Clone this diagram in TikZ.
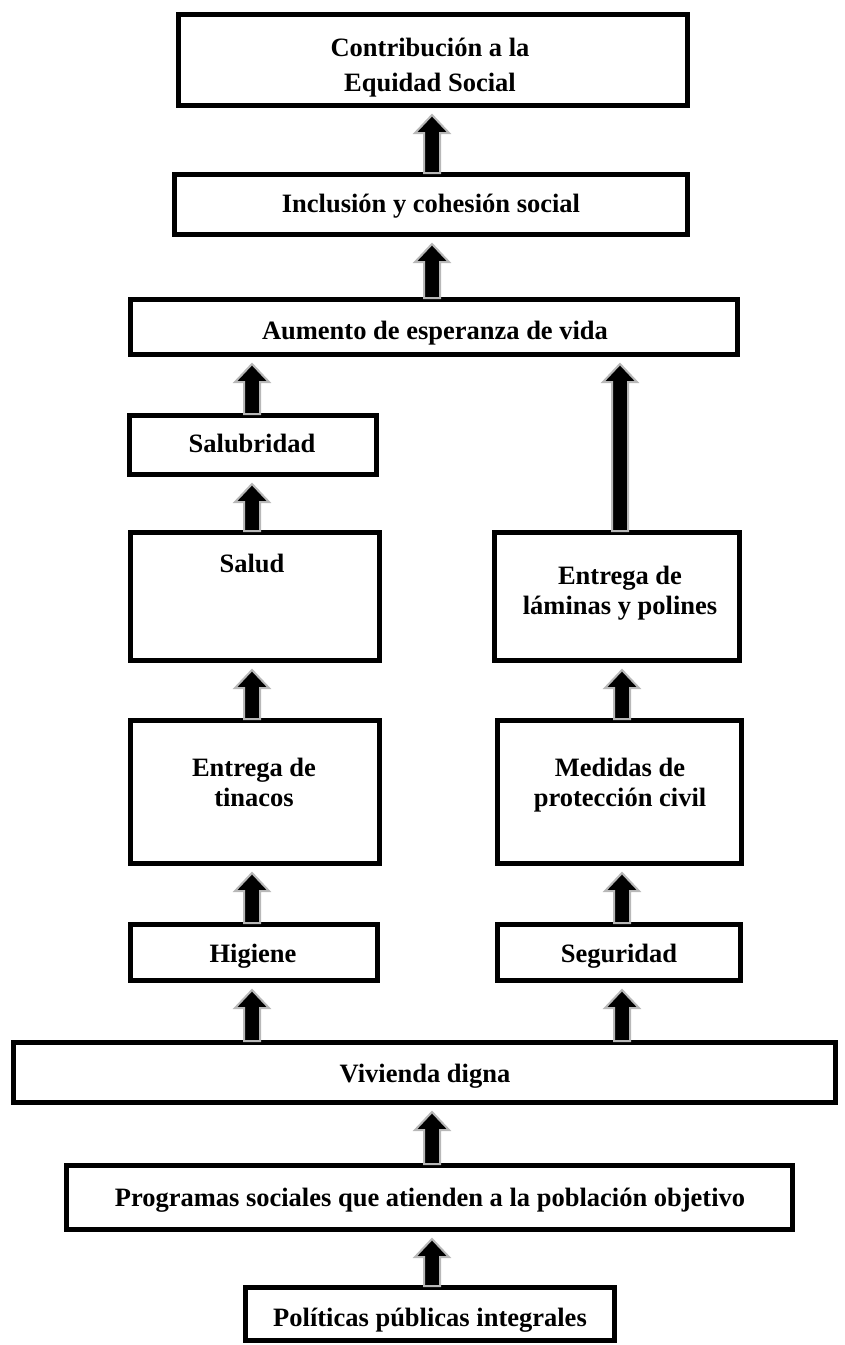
\documentclass[tikz,border=0pt]{standalone}
\usepackage{fontspec}
\setmainfont{Liberation Serif}
\usetikzlibrary{calc}
\tikzset{
  boxnode/.style={draw=black, line width=5pt, fill=white, rectangle, inner sep=0pt},
  lbl/.style={font=\fontsize{26.5}{33}\selectfont\bfseries, anchor=base, inner sep=0pt},
  blockarr/.style={fill=black, draw=black!28, line width=2pt, line join=miter}
}
\newcommand{\blockarrow}[3]{%
  \path[blockarr] let \p1=(#2.north), \p2=(#3.south) in
   ({#1pt-8pt},{\y1-1pt}) -- ({#1pt-8pt},{\y2-25pt}) -- ({#1pt-17pt},{\y2-25pt}) --
   ({#1pt},{\y2-7pt}) -- ({#1pt+17pt},{\y2-25pt}) -- ({#1pt+8pt},{\y2-25pt}) --
   ({#1pt+8pt},{\y1-1pt}) -- cycle;}
\begin{document}
\begin{tikzpicture}[x=1pt,y=-1pt]
\useasboundingbox (0,0) rectangle (845,1345);
% boxes
\node[boxnode, minimum width=509pt, minimum height=91pt] (contrib) at (433,60) {};
\node[boxnode, minimum width=513pt, minimum height=60pt] (inclus) at (431,204.5) {};
\node[boxnode, minimum width=607pt, minimum height=55pt] (aumento) at (434,327) {};
\node[boxnode, minimum width=247pt, minimum height=59pt] (salub) at (253,445) {};
\node[boxnode, minimum width=249pt, minimum height=128pt] (salud) at (255,596.5) {};
\node[boxnode, minimum width=245pt, minimum height=128pt] (lamin) at (617,596.5) {};
\node[boxnode, minimum width=249pt, minimum height=143pt] (tinac) at (255,792) {};
\node[boxnode, minimum width=244pt, minimum height=143pt] (medid) at (619.5,792) {};
\node[boxnode, minimum width=247pt, minimum height=56pt] (higie) at (254,952.5) {};
\node[boxnode, minimum width=243pt, minimum height=56pt] (segur) at (619,952.5) {};
\node[boxnode, minimum width=822pt, minimum height=60pt] (vivie) at (424.5,1072.5) {};
\node[boxnode, minimum width=726pt, minimum height=64pt] (progr) at (429.5,1197.5) {};
\node[boxnode, minimum width=369pt, minimum height=53pt] (polit) at (430,1314) {};
% labels
\node[lbl] (t1a) at (430,56) {Contribución a la};
\node[lbl] (t1b) at (430,91) {Equidad Social};
\node[lbl] (t2) at (431,212) {Inclusión y cohesión social};
\node[lbl] (t3) at (435,339) {Aumento de esperanza de vida};
\node[lbl] (t4) at (252,452) {Salubridad};
\node[lbl] (t5) at (252,572) {Salud};
\node[lbl] (t6a) at (620,584) {Entrega de};
\node[lbl] (t6b) at (620,614) {láminas y polines};
\node[lbl] (t7a) at (254,776) {Entrega de};
\node[lbl] (t7b) at (254,806) {tinacos};
\node[lbl] (t8a) at (620,776) {Medidas de};
\node[lbl] (t8b) at (620,806) {protección civil};
\node[lbl] (t9) at (253,962) {Higiene};
\node[lbl] (t10) at (619,962) {Seguridad};
\node[lbl] (t11) at (425,1082) {Vivienda digna};
\node[lbl] (t12) at (430,1206) {Programas sociales que atienden a la población objetivo};
\node[lbl] (t13) at (430,1326) {Políticas públicas integrales};
% arrows
\blockarrow{432}{inclus}{contrib}
\blockarrow{432}{aumento}{inclus}
\blockarrow{252}{salub}{aumento}
\blockarrow{620}{lamin}{aumento}
\blockarrow{252}{salud}{salub}
\blockarrow{252}{tinac}{salud}
\blockarrow{622}{medid}{lamin}
\blockarrow{252}{higie}{tinac}
\blockarrow{622}{segur}{medid}
\blockarrow{252}{vivie}{higie}
\blockarrow{622}{vivie}{segur}
\blockarrow{432}{progr}{vivie}
\blockarrow{432}{polit}{progr}
\end{tikzpicture}
\end{document}
